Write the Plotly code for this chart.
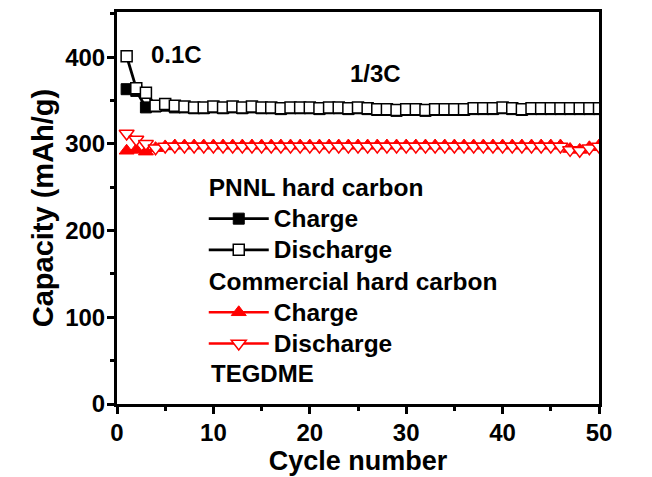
import plotly.graph_objects as go

# Cycle index and capacities (mAh/g)
cycles = list(range(1, 51))

pnnl_charge = [363, 361, 342, 343, 344, 342, 342, 341, 341, 342,
               341, 342, 341, 342, 341, 341, 340, 341, 341, 341,
               340, 341, 341, 340, 341, 340, 339, 339, 338, 339,
               339, 338, 339, 339, 339, 339, 340, 340, 340, 341,
               340, 339, 340, 340, 340, 340, 340, 340, 340, 340]
pnnl_discharge = [401, 364, 359, 344, 346, 344, 343, 342, 342, 343,
                  342, 343, 342, 343, 342, 342, 341, 342, 342, 342,
                  341, 342, 342, 341, 342, 341, 340, 340, 339, 340,
                  340, 339, 340, 340, 340, 340, 341, 341, 341, 342,
                  341, 340, 341, 341, 341, 341, 341, 341, 341, 341]
comm_charge = [292, 293, 291, 295, 297, 298, 298, 298, 298, 298,
               298, 298, 298, 298, 298, 298, 298, 298, 298, 298,
               298, 298, 298, 298, 298, 298, 298, 298, 298, 298,
               298, 298, 298, 298, 298, 298, 298, 298, 298, 298,
               298, 298, 298, 298, 298, 298, 294, 293, 296, 298]
comm_discharge = [312, 305, 300, 295, 297, 297, 297, 297, 297, 297,
                  297, 297, 297, 297, 297, 297, 297, 297, 297, 297,
                  297, 297, 297, 297, 297, 297, 297, 297, 297, 297,
                  297, 297, 297, 297, 297, 297, 297, 297, 297, 297,
                  297, 297, 297, 297, 297, 297, 293, 292, 295, 297]

FONT = "Liberation Sans, Arial, sans-serif"


def label(text, size=24.5):
    # bold legend text, slightly larger than the row height font
    return f"<span style='font-size:{size}px'><b>{text}</b></span>"


fig = go.Figure()

fig.add_trace(go.Scatter(
    x=cycles, y=pnnl_charge, mode="lines+markers", name=label("Charge"),
    legendgroup="pnnl", legendgrouptitle=dict(text=label("PNNL hard carbon")),
    line=dict(color="black", width=2.8),
    marker=dict(symbol="square", size=11, color="black",
                line=dict(color="black", width=1))))
fig.add_trace(go.Scatter(
    x=cycles, y=pnnl_discharge, mode="lines+markers", name=label("Discharge"),
    legendgroup="pnnl",
    line=dict(color="black", width=2.8),
    marker=dict(symbol="square", size=11, color="white",
                line=dict(color="black", width=1.5))))
fig.add_trace(go.Scatter(
    x=cycles, y=comm_charge, mode="lines+markers", name=label("Charge"),
    legendgroup="comm", legendgrouptitle=dict(text=label("Commercial hard carbon")),
    line=dict(color="red", width=2.5),
    marker=dict(symbol="triangle-up", size=13, color="red",
                line=dict(color="red", width=1))))
fig.add_trace(go.Scatter(
    x=cycles, y=comm_discharge, mode="lines+markers", name=label("Discharge"),
    legendgroup="comm",
    line=dict(color="red", width=2.5),
    marker=dict(symbol="triangle-down", size=13, color="white",
                line=dict(color="red", width=1.5))))

fig.add_annotation(x=6.2, y=403, text="<b>0.1C</b>", showarrow=False,
                   font=dict(size=24, color="black", family=FONT))
fig.add_annotation(x=26.8, y=381, text="<b>1/3C</b>", showarrow=False,
                   font=dict(size=24, color="black", family=FONT))
fig.add_annotation(x=0.19, y=0.078, xref="paper", yref="paper",
                   xanchor="left", yanchor="middle", showarrow=False,
                   text="<b>TEGDME</b>",
                   font=dict(size=24, color="black", family=FONT))

fig.update_layout(
    width=652, height=477,
    margin=dict(l=117, r=53, t=9, b=67),
    plot_bgcolor="white", paper_bgcolor="white",
    font=dict(family=FONT, color="black"),
    showlegend=True,
    legend=dict(x=0.18, y=0.605, xanchor="left", yanchor="top",
                bgcolor="rgba(0,0,0,0)", borderwidth=0,
                traceorder="grouped", tracegroupgap=0, itemwidth=60,
                font=dict(size=21.7, color="black", family=FONT),
                grouptitlefont=dict(size=21.7, color="black", family=FONT)),
    xaxis=dict(
        range=[0, 50], tickmode="linear", tick0=0, dtick=10,
        ticks="outside", ticklen=7, tickwidth=2.5, tickcolor="black",
        showline=True, linewidth=3, linecolor="black", mirror=True,
        showgrid=False, zeroline=False, ticklabelstandoff=-2,
        tickfont=dict(size=24, color="black", family=FONT),
        tickprefix="<b>", ticksuffix="</b>",
        minor=dict(dtick=5, ticks="outside", ticklen=4, tickwidth=2.5,
                   tickcolor="black", showgrid=False),
        title=dict(text="<b>Cycle number</b>", standoff=3,
                   font=dict(size=27, color="black", family=FONT))),
    yaxis=dict(
        range=[0, 452], tickmode="linear", tick0=0, dtick=100,
        ticks="outside", ticklen=7, tickwidth=2.5, tickcolor="black",
        showline=True, linewidth=3, linecolor="black", mirror=True,
        showgrid=False, zeroline=False, ticklabelstandoff=-3,
        tickfont=dict(size=24, color="black", family=FONT),
        tickprefix="<b>", ticksuffix="</b>",
        minor=dict(dtick=50, ticks="outside", ticklen=4, tickwidth=2.5,
                   tickcolor="black", showgrid=False),
        title=dict(text="<b>Capacity (mAh/g)</b>", standoff=4,
                   font=dict(size=29, color="black", family=FONT))),
)

fig.write_html("out.html")
